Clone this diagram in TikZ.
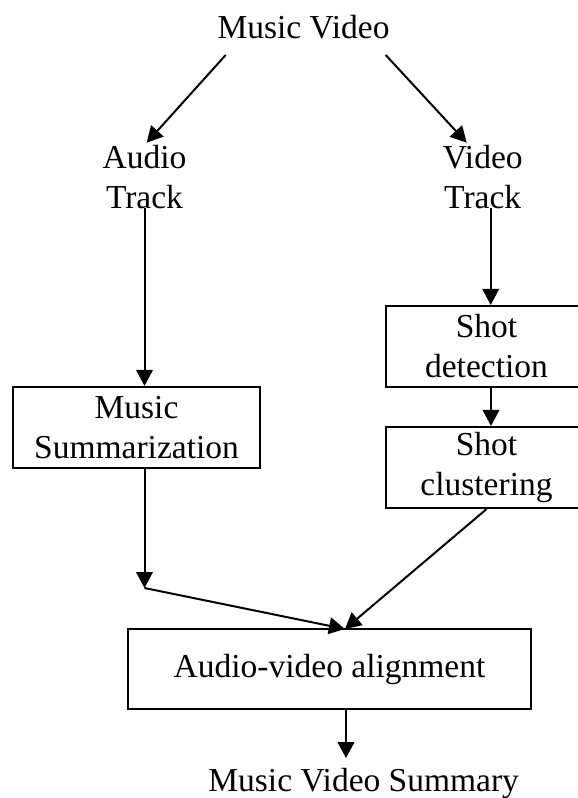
\documentclass[tikz,border=0pt]{standalone}
\usepackage{fontspec}
\setmainfont{Liberation Serif}
\usetikzlibrary{arrows.meta,calc}
\begin{document}
\begin{tikzpicture}[x=0.5pt,y=-0.5pt,
  every node/.style={font=\fontsize{16.75}{20}\selectfont, inner sep=0pt},
  box/.style={draw, line width=1.1pt, align=center, minimum height=40.5pt},
  txt/.style={align=center},
  arr/.style={line width=1pt, -{Triangle[length=8pt,width=8.3pt]}}]
\useasboundingbox (0,0) rectangle (578,798);

% labels and process boxes
\node[anchor=base] (mv) at (303.5,38.3) {Music Video};
\node[txt,anchor=base] (at) at (144.5,208) {Audio\\Track};
\node[txt,anchor=base] (vt) at (482.7,208) {Video\\Track};
\node[box,minimum width=123.5pt] (ms) at (136.5,427.5) {Music\\Summarization};
\node[box,minimum width=100.5pt] (sd) at (486.5,346.5) {Shot\\detection};
\node[box,minimum width=100.5pt] (sc) at (486.5,467.5) {Shot\\clustering};
\node[box,minimum width=201.5pt,minimum height=40pt] (al) at (329.5,669) {Audio-video alignment};
\node[anchor=base] (mvs) at (363.7,791.7) {Music Video Summary};

% connector end points
\coordinate (mvL) at (225.7,55);
\coordinate (mvR) at (385.7,55);
\coordinate (atT) at (146.7,142.7);
\coordinate (vtT) at (466.7,142.7);
\coordinate (vtB) at ($(vt.base)+(8,0)$);
\coordinate (sdB) at ($(sd.south)+(4.5,0)$);
\coordinate (join) at (144.5,588);
\coordinate (meet) at (345,629);
\coordinate (alB) at ($(al.south)+(16.5,0)$);

% connectors
\draw[arr] (mvL) -- (atT);
\draw[arr] (mvR) -- (vtT);
\draw[arr] (at.base) -- (at.base |- ms.north);
\draw[arr] (vtB) -- (vtB |- sd.north);
\draw[arr] (sdB) -- (sdB |- sc.north);
\draw[arr] (at.base |- ms.south) -- (join);
\draw[arr] (join) -- (meet);
\draw[arr] (sc.south) -- (meet);
\draw[arr, shorten >=5pt] (alB) -- (alB |- mvs.north);
\end{tikzpicture}
\end{document}
